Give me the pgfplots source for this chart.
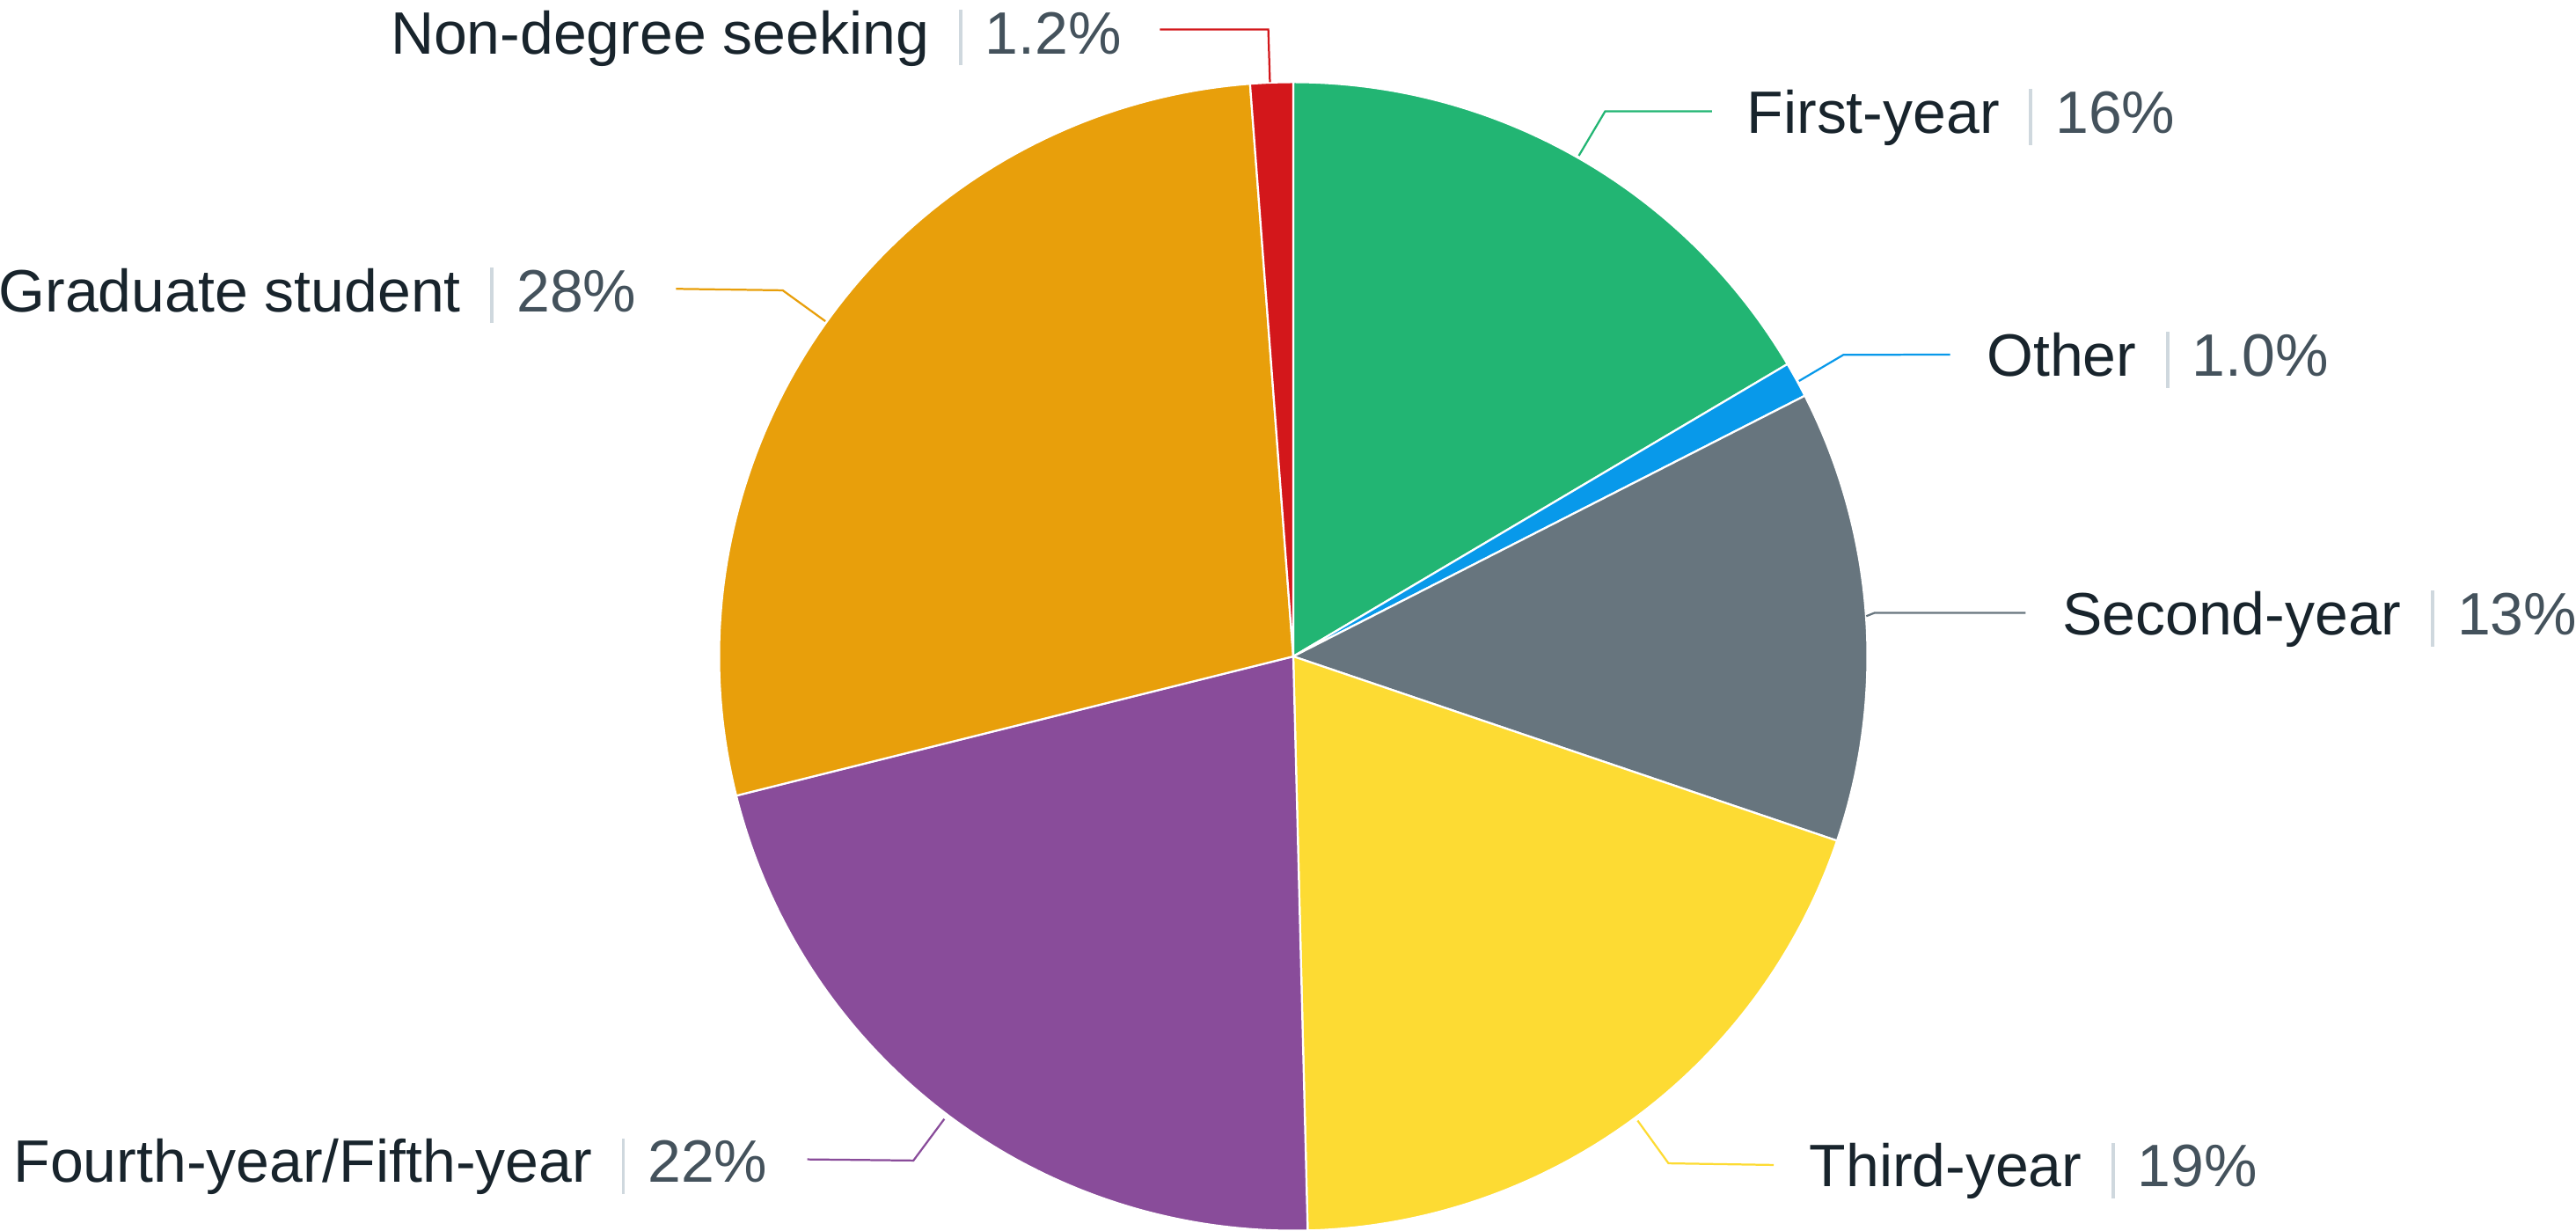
\documentclass[border=0pt]{standalone}
\usepackage{fontspec}
\setmainfont{Liberation Sans}
\usepackage{pgfplots}
\usepackage{pgfplotstable}
\pgfplotsset{compat=1.18}

\definecolor{c0}{HTML}{22B573}
\definecolor{c1}{HTML}{0899EA}
\definecolor{c2}{HTML}{67757E}
\definecolor{c3}{HTML}{FDDB33}
\definecolor{c4}{HTML}{894C9A}
\definecolor{c5}{HTML}{E89F0B}
\definecolor{c6}{HTML}{D3171B}
\definecolor{txt}{HTML}{18242C}
\definecolor{sepc}{HTML}{CFD8DE}
\definecolor{pct}{HTML}{44525C}

\newcommand\lbl[2]{\textcolor{txt}{#1}\hspace{9bp}\textcolor{sepc}{\rule[-3.5bp]{1bp}{17bp}}\hspace{7bp}\textcolor{pct}{#2}}

\pgfplotstableread[col sep=comma]{
label,value
First-year,16.5
Other,1.0
Second-year,12.7
Third-year,19.4
Fourth-year/Fifth-year,21.5
Graduate student,27.7
Non-degree seeking,1.2
}\piedata

\begin{document}
\begin{tikzpicture}
\begin{axis}[scale only axis, width=784bp, height=374.5bp,
  xmin=0, xmax=1568, ymin=0, ymax=749, hide axis, clip=false]
\def\cum{0}
\pgfplotsforeachungrouped \i in {0,...,6}{
  \pgfplotstablegetelem{\i}{value}\of\piedata
  \pgfmathsetmacro\angA{90-3.6*\cum}
  \pgfmathsetmacro\cumnew{\cum+\pgfplotsretval}
  \pgfmathsetmacro\angB{90-3.6*\cumnew}
  \global\let\cum\cumnew
  \edef\temp{\noexpand\addplot[fill=c\i, draw=white, line width=0.6bp,
     domain=\angB:\angA, samples=90, variable=\noexpand\t]
     ({787.2+349.5*cos(\noexpand\t)},{349.5+349.5*sin(\noexpand\t)})
     -- (axis cs:787.2,349.5) -- cycle;}
  \temp
}
% leader lines
\draw[c6, line width=0.6bp] (axis cs:773,699) -- (axis cs:772,731) -- (axis cs:706,731);
\draw[c0, line width=0.6bp] (axis cs:961,654.2) -- (axis cs:977,681.2) -- (axis cs:1042,681.2);
\draw[c1, line width=0.6bp] (axis cs:1095,517.1) -- (axis cs:1122,533) -- (axis cs:1187,533.2);
\draw[c2, line width=0.6bp] (axis cs:1136,374) -- (axis cs:1141,376) -- (axis cs:1233,376);
\draw[c3, line width=0.6bp] (axis cs:996.8,67) -- (axis cs:1015.6,41) -- (axis cs:1079.6,40);
\draw[c4, line width=0.6bp] (axis cs:574.8,68) -- (axis cs:556,42.7) -- (axis cs:491.4,43.4);
\draw[c5, line width=0.6bp] (axis cs:502.4,553.5) -- (axis cs:476.4,572.3) -- (axis cs:411.5,573.2);
% labels
\begin{scope}[every node/.style={inner sep=0pt, font=\fontsize{18.2bp}{21bp}\selectfont}]
\node[anchor=base east] at (axis cs:683,716.3) {\lbl{Non-degree seeking}{1.2\%}};
\node[anchor=base west] at (axis cs:1063,667.8) {\lbl{First-year}{16\%}};
\node[anchor=base west] at (axis cs:1209,520) {\lbl{Other}{1.0\%}};
\node[anchor=base west] at (axis cs:1255,362.5) {\lbl{Second-year}{13\%}};
\node[anchor=base west] at (axis cs:1101,26.6) {\lbl{Third-year}{19\%}};
\node[anchor=base east] at (axis cs:467.6,29.3) {\lbl{Fourth-year/Fifth-year}{22\%}};
\node[anchor=base east] at (axis cs:387.8,559.4) {\lbl{Graduate student}{28\%}};
\end{scope}
\end{axis}
\pgfresetboundingbox
\path (current axis.south west) rectangle (current axis.north east);
\end{tikzpicture}
\end{document}
